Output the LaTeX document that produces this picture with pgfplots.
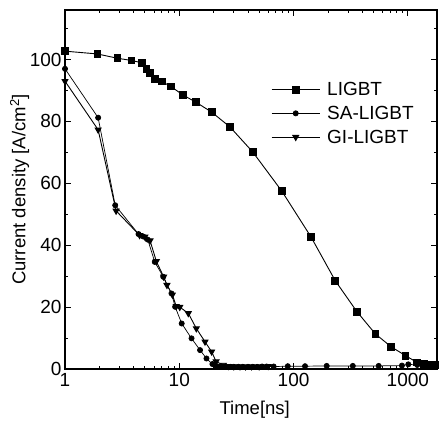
\documentclass[border=0pt]{standalone}
\usepackage{pgfplots}
\pgfplotsset{compat=1.18}
\usepackage{fontspec}
\setmainfont{Liberation Sans}
\begin{document}
\begin{tikzpicture}
\useasboundingbox (-65pt,-53pt) rectangle (374pt,369pt);
\begin{axis}[
  scale only axis, width=372pt, height=359pt,
  xmode=log, xmin=1, xmax=1800, ymin=0, ymax=116,
  xtick={1,10,100,1000}, xticklabels={1,10,100,1000},
  ytick={0,20,40,60,80,100}, yticklabels={0,20,40,60,80,100},
  minor ytick={10,30,50,70,90,110},
  tick pos=both, tick align=inside,
  major tick length=6pt, minor tick length=3pt,
  axis line style={line width=1.2pt}, tick style={line width=0.8pt, black},
  every tick label/.append style={font=\fontsize{19}{22}\selectfont},
  xticklabel style={yshift=-1pt},
  yticklabel style={xshift=0pt},
  xlabel={Time[ns]}, ylabel={Current density [A/cm\textsuperscript{2}]},
  label style={font=\fontsize{18.5}{22}\selectfont},
  xlabel style={at={(axis description cs:0.51,-0.114)}, anchor=center},
  ylabel style={at={(axis description cs:-0.122,0.5)}, anchor=center},
  legend style={draw=none, fill=none, at={(rel axis cs:0.554,0.805)}, anchor=north west,
    font=\fontsize{19}{22}\selectfont, inner sep=0pt, row sep=5pt},
  legend cell align=left,
  legend image code/.code={\draw[mark repeat=2, mark phase=2] plot coordinates {(0pt,0pt)(24pt,0pt)(48pt,0pt)}; \path (53pt,0pt);},
]
\addplot[black, line width=0.9pt, mark=square*, mark size=3.4pt] coordinates {
(1,102.7)(1.92,101.8)(2.88,100.4)(3.82,99.7)(4.74,98.9)(5.17,97)(5.53,95.6)(6.12,93.8)(7.0,92.9)(8.45,91.3)(10.7,88.6)(14.0,86.2)(19.2,83.0)(27.8,78.2)(44,70.1)(78.9,57.5)(142,42.7)(232,28.5)(359,18.5)(521,11.3)(714,7.2)(955,4.3)(1208,2.1)(1390,1.6)(1577,1.4)(1800,1.3)
};
\addlegendentry{LIGBT}
\addplot[black, line width=0.7pt, mark=*, mark size=2.6pt] coordinates {
(1,97)(1.95,81.2)(2.75,52.9)(4.4,43.6)(4.85,42.8)(5.3,41.8)(6.1,34.6)(7.24,29.8)(8.55,24.4)(9.2,20.1)(10.5,14.7)(12.8,9.9)(15.2,6.1)(17.3,3.4)(19.5,1.6)(21,1.0)(22.5,0.8)(24,0.7)(26,0.7)(28,0.7)(30,0.7)(33,0.7)(36,0.7)(40,0.7)(44,0.7)(48,0.7)(53,0.8)(58,0.8)(67,0.8)(89,0.9)(126,0.9)(195,1.0)(330,1.0)(556,1.0)(888,1.1)(1010,1.5)(1208,1.3)(1500,1.2)(1800,1.2)
};
\addlegendentry{SA-LIGBT}
\addplot[black, line width=0.9pt, mark=triangle*, mark options={rotate=180}, mark size=3.4pt] coordinates {
(1,93)(1.95,77.3)(2.8,51.1)(4.5,43.2)(5.0,42.7)(5.55,41.5)(6.3,34.8)(7.3,29.8)(7.8,27.1)(8.7,24.0)(9.4,20.3)(10.1,20.0)(12,18)(14.1,13.1)(16.8,8.8)(19.2,5.6)(21,2.4)(24.3,1.3)(27,0.9)(30,0.8)(34,0.8)(38,0.8)(43,0.8)(50,0.8)(60,0.9)
};
\addlegendentry{GI-LIGBT}
\end{axis}
\end{tikzpicture}
\end{document}
